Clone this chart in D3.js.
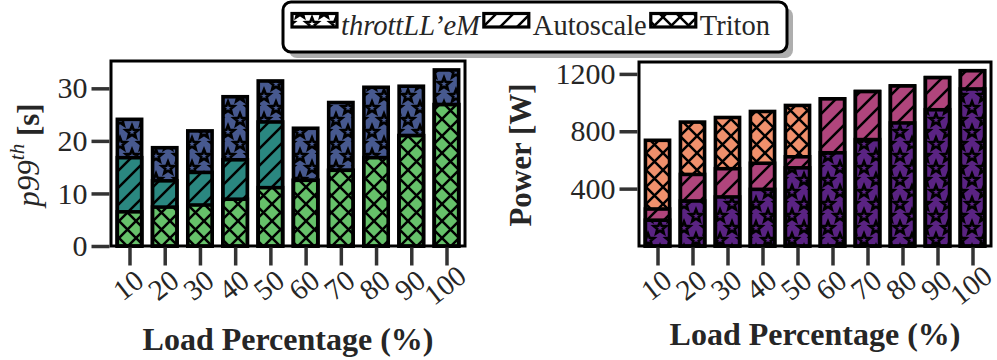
<!DOCTYPE html>
<html><head><meta charset="utf-8">
<script src="https://cdn.jsdelivr.net/npm/d3@7"></script>
<style>
html,body{margin:0;padding:0;background:#fff;}
svg{display:block;font-family:"Liberation Serif","Times New Roman","DejaVu Serif",serif;}
</style></head>
<body>
<svg id="chart" width="997" height="360"></svg>
<script>
// ---- data ----
const loads = [10, 20, 30, 40, 50, 60, 70, 80, 90, 100];
const seriesNames = ["throttLL\u2019eM", "Autoscale", "Triton"];
const p99Throttle  = [24.1, 18.7, 21.9, 28.4, 31.4, 22.4, 27.3, 30.2, 30.4, 33.5];
const p99Autoscale = [16.8, 12.4, 14.0, 16.4, 23.6, 12.5, 14.4, 16.8, 21.0, 26.9];
const p99Triton    = [6.5, 7.4, 7.8, 8.9, 11.1, 12.5, 14.4, 16.8, 21.0, 26.9];
const powerThrottle  = [180, 314, 342, 395, 545, 650, 742, 858, 950, 1095];
const powerAutoscale = [258, 499, 539, 577, 622, 1026, 1077, 1116, 1174, 1222];
const powerTriton    = [737, 864, 896, 938, 980, 1026, 1077, 1116, 1174, 1222];
const p99Ticks = [0, 10, 20, 30];
const powerTicks = [400, 800, 1200];

const svg = d3.select("#chart");
const defs = svg.append("defs");
const TILE = 17;
const STILE = 24;

function starPath(cx, cy, R, r) {
  let p = [];
  for (let i = 0; i < 10; i++) {
    const a = -Math.PI / 2 + i * Math.PI / 5;
    const rad = i % 2 ? r : R;
    p.push([cx + rad * Math.cos(a), cy + rad * Math.sin(a)]);
  }
  return "M" + p.map(q => q[0].toFixed(2) + "," + q[1].toFixed(2)).join("L") + "Z";
}

function makePattern(id, hatch, bg) {
  const T = hatch === "*" ? STILE : TILE;
  const pt = defs.append("pattern").attr("id", id)
    .attr("patternUnits", "userSpaceOnUse").attr("width", T).attr("height", T);
  pt.append("rect").attr("width", T).attr("height", T).attr("fill", bg);
  const add = (d, sw) => pt.append("path").attr("d", d)
    .attr("stroke", "#000").attr("stroke-width", sw).attr("fill", "none");
  if (hatch === "/") {
    add(`M-2,${T+2}L${T+2},-2 M-2,2L2,-2 M${T-2},${T+2}L${T+2},${T-2}`, 2.5);
  } else if (hatch === "x") {
    add(`M-2,${T+2}L${T+2},-2 M-2,-2L${T+2},${T+2}`, 2.5);
  } else if (hatch === "*") {
    const pts = [[0,0],[T,0],[0,T],[T,T],[T/2,T/2]];
    pts.forEach(([x,y]) => add(starPath(x, y, 6.5, 2.8), 2.6));
  }
}

const hatches = {"throttLL\u2019eM": "*", "Autoscale": "/", "Triton": "x"};

const panels = [
  {
    key: "p99", x0: 111, x1: 465, y0: 61, y1: 246, ymax: 35.2, ticks: p99Ticks,
    order: [
      {name: "throttLL\u2019eM", values: p99Throttle, color: "#47598f"},
      {name: "Autoscale", values: p99Autoscale, color: "#2a8780"},
      {name: "Triton", values: p99Triton, color: "#66c16a"}
    ],
    labelX: 28, xlabBase: 350
  },
  {
    key: "power", x0: 639, x1: 991, y0: 62, y1: 246, ymax: 1283, ticks: powerTicks,
    order: [
      {name: "Triton", values: powerTriton, color: "#f0906c"},
      {name: "Autoscale", values: powerAutoscale, color: "#b0457c"},
      {name: "throttLL\u2019eM", values: powerThrottle, color: "#5a2383"}
    ],
    labelX: 520, xlabBase: 345
  }
];

panels.forEach((P, pi) => {
  const x = d3.scalePoint().domain(loads).range([P.x0 + 18.5, P.x1 - 18.5]);
  const y = d3.scaleLinear().domain([0, P.ymax]).range([P.y1, P.y0]);
  const bw = x.step() * 0.69;
  const g = svg.append("g");

  P.order.forEach((s, si) => {
    const pid = `pat-${P.key}-${si}`;
    makePattern(pid, hatches[s.name], s.color);
    g.append("g").selectAll("rect").data(loads.map((l, i) => ({l, v: s.values[i]})))
      .join("rect")
      .attr("x", d => x(d.l) - bw / 2)
      .attr("y", d => y(d.v))
      .attr("width", bw)
      .attr("height", d => y(0) - y(d.v))
      .attr("fill", `url(#${pid})`)
      .attr("stroke", "#000")
      .attr("stroke-width", 3.6);
  });

  // frame
  g.append("rect").attr("x", P.x0).attr("y", P.y0)
    .attr("width", P.x1 - P.x0).attr("height", P.y1 - P.y0)
    .attr("fill", "none").attr("stroke", "#000").attr("stroke-width", 3);

  // y axis
  const ya = g.append("g").attr("transform", `translate(${P.x0 - 1.5},0)`)
    .call(d3.axisLeft(y).tickValues(P.ticks).tickFormat(d3.format("d")).tickSize(18).tickPadding(4));
  ya.select(".domain").remove();
  ya.selectAll(".tick line").attr("stroke", "#333").attr("stroke-width", 3.5);
  ya.selectAll(".tick text").attr("font-size", 30).attr("fill", "#262626")
    .attr("font-family", "Liberation Serif, serif");

  // x axis
  const xa = g.append("g").attr("transform", `translate(0,${P.y1 + 1.5})`)
    .call(d3.axisBottom(x).tickSize(18).tickPadding(4));
  xa.select(".domain").remove();
  xa.selectAll(".tick line").attr("stroke", "#333").attr("stroke-width", 3.5);
  xa.selectAll(".tick text").attr("font-size", 29).attr("fill", "#262626")
    .attr("font-family", "Liberation Serif, serif")
    .attr("y", 0).attr("dy", null)
    .attr("dominant-baseline", "central")
    .attr("text-anchor", "middle")
    .attr("transform", `translate(-2,${285 - P.y1 - 1.5}) rotate(-38)`);

  // x label
  svg.append("text").attr("x", (P.x0 + P.x1) / 2).attr("y", P.xlabBase)
    .attr("text-anchor", "middle").attr("font-size", 32).attr("font-weight", "bold")
    .attr("fill", "#262626").text("Load Percentage (%)");

  // y label
  const yl = svg.append("text")
    .attr("transform", `translate(${P.labelX},155) rotate(-90)`)
    .attr("text-anchor", "middle").attr("dominant-baseline", "central")
    .attr("font-size", 31).attr("fill", "#262626");
  if (P.key === "p99") {
    yl.append("tspan").attr("font-style", "italic").text("p99");
    yl.append("tspan").attr("font-style", "italic").attr("font-size", 21).attr("dy", -11).text("th");
    yl.append("tspan").attr("font-weight", "bold").attr("dy", 11).text(" [s]");
  } else {
    yl.attr("font-weight", "bold").text("Power [W]");
  }
});

// ---- legend ----
const L = {x: 283, y: 2, w: 504, h: 50};
const lg = svg.append("g");
lg.append("rect").attr("x", L.x + 6).attr("y", L.y + 6).attr("width", L.w).attr("height", L.h)
  .attr("rx", 8).attr("fill", "#9a9a9a").attr("opacity", 0.8);
lg.append("rect").attr("x", L.x).attr("y", L.y).attr("width", L.w).attr("height", L.h)
  .attr("rx", 8).attr("fill", "#fff").attr("stroke", "#000").attr("stroke-width", 3);
let cx = L.x + 9;
seriesNames.forEach((name, i) => {
  const pid = `pat-leg-${i}`;
  makePattern(pid, hatches[name], "#fff");
  lg.append("rect").attr("x", cx).attr("y", 13.5).attr("width", 45).attr("height", 13.5)
    .attr("fill", `url(#${pid})`).attr("stroke", "#000").attr("stroke-width", 3.2);
  cx += 49;
  const t = lg.append("text").attr("x", cx).attr("y", 35).attr("font-size", 28.5)
    .attr("fill", "#262626").text(name);
  if (i === 0) t.attr("font-style", "italic");
  cx += t.node().getComputedTextLength() + 4;
});
</script>
</body></html>
